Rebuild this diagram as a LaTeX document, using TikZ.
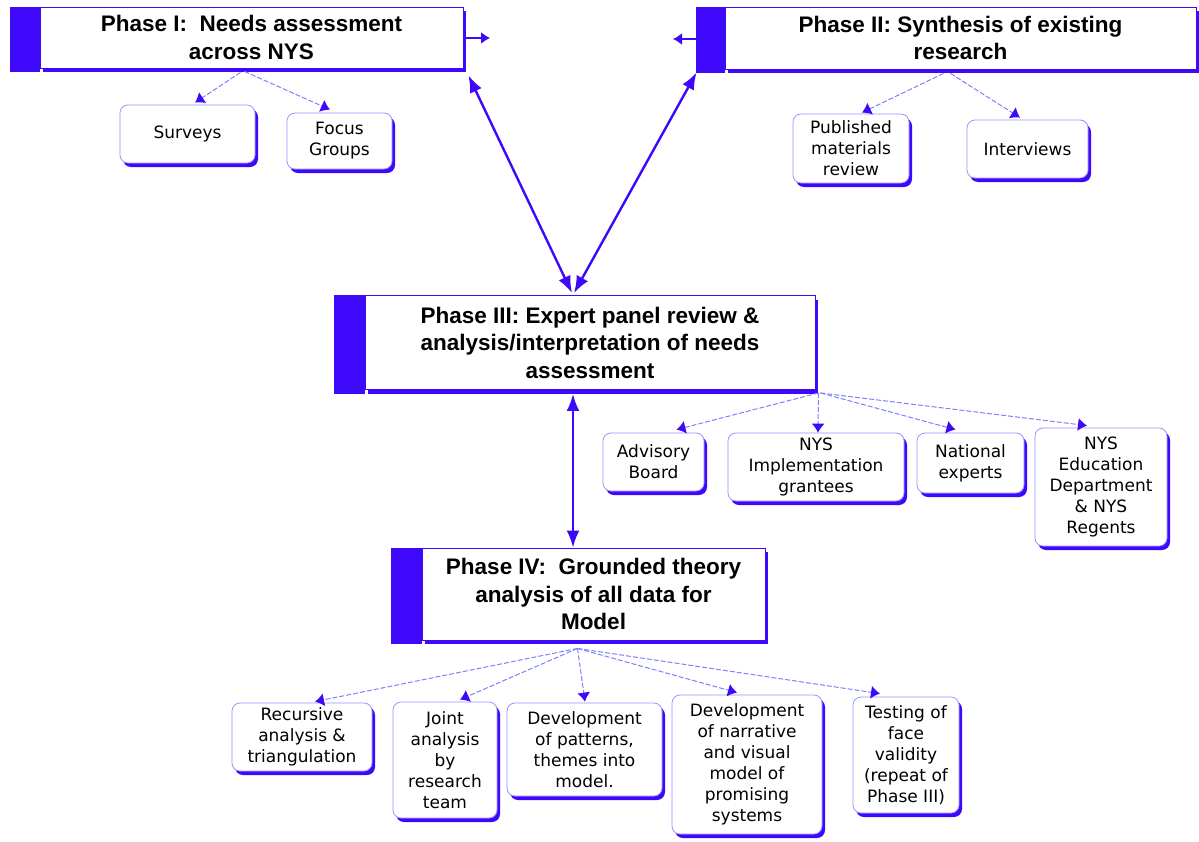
\documentclass[tikz,border=0pt]{standalone}
\usepackage{fontspec}
\usetikzlibrary{arrows.meta,calc,shadows}
\newfontfamily\titlefont{Liberation Sans}
\newfontfamily\boxfont{DejaVu Sans}

\definecolor{bblue}{RGB}{62,8,250}
\definecolor{lblue}{RGB}{128,128,255}
\definecolor{edgeblue}{RGB}{150,150,255}

\tikzset{
  phasebox/.style={draw=bblue, line width=0.9pt, fill=white, rectangle,
    inner sep=0pt, align=center,
    font=\titlefont\bfseries\fontsize{22.5}{27.5}\selectfont,
    drop shadow={shadow xshift=3pt, shadow yshift=-4pt, fill=bblue, opacity=1}},
  leafbox/.style={draw=edgeblue, line width=0.8pt, fill=white,
    rounded corners=8pt, inner sep=0pt, align=center,
    font=\boxfont\fontsize{17}{21}\selectfont,
    drop shadow={shadow xshift=3pt, shadow yshift=-4pt, fill=bblue, opacity=1}},
  phasebar/.style={fill=bblue},
  bigarrow/.style={draw=bblue, line width=2.4pt,
    {Latex[length=17pt,width=13pt]}-{Latex[length=17pt,width=13pt]}},
  subarrow/.style={draw=lblue, line width=1pt, dash pattern=on 5pt off 2pt,
    -{Latex[length=9pt,width=13pt,color=bblue]}},
  stubarrow/.style={draw=bblue, line width=1.6pt,
    -{Latex[length=9pt,width=12pt]}},
}

\begin{document}
\begin{tikzpicture}[x=1pt,y=-1pt]
\fill[white] (0,0) rectangle (1199,841);
\useasboundingbox (0,0) rectangle (1199,841);

% ---- phase boxes ----
\node[phasebox, minimum width=423pt, minimum height=61pt] (p1) at (251.5,37.5)
  {Phase I:\ \ Needs assessment\\across NYS};
\node[phasebox, minimum width=471pt, minimum height=62pt] (p2) at (960.5,38)
  {Phase II: Synthesis of existing\\research};
\node[phasebox, minimum width=450pt, minimum height=94pt] (p3) at (590,342.5)
  {Phase III: Expert panel review \&\\analysis/interpretation of needs\\assessment};
\node[phasebox, minimum width=343pt, minimum height=92pt] (p4) at (593.5,594)
  {Phase IV:\ \ Grounded theory\\analysis of all data for\\Model};

% left colour bars of the phase boxes
\fill[phasebar] ($(p1.north west)+(-30,0)$) rectangle ($(p1.south west)+(0,4)$);
\fill[phasebar] ($(p2.north west)+(-29,0)$) rectangle ($(p2.south west)+(0,4)$);
\fill[phasebar] ($(p3.north west)+(-31,0)$) rectangle ($(p3.south west)+(0,4)$);
\fill[phasebar] ($(p4.north west)+(-31,0)$) rectangle ($(p4.south west)+(0,4)$);

% ---- phase I items ----
\node[leafbox, minimum width=135pt, minimum height=58pt] (sv) at (187.5,134) {Surveys};
\node[leafbox, minimum width=105pt, minimum height=56pt] (fg) at (339.5,141) {Focus\\Groups};

% ---- phase II items ----
\node[leafbox, minimum width=116pt, minimum height=69pt] (pm) at (851,148.5) {Published\\materials\\review};
\node[leafbox, minimum width=121pt, minimum height=58pt] (iv) at (1027.5,149) {Interviews};

% ---- phase III items ----
\node[leafbox, minimum width=101pt, minimum height=58pt] (ab) at (653.5,462) {Advisory\\Board};
\node[leafbox, minimum width=176pt, minimum height=68pt] (ni) at (816,467) {NYS\\Implementation\\grantees};
\node[leafbox, minimum width=107pt, minimum height=60pt] (ne) at (970.5,463) {National\\experts};
\node[leafbox, minimum width=132pt, minimum height=118pt] (ed) at (1101,487) {NYS\\Education\\Department\\\& NYS\\Regents};

% ---- phase IV items ----
\node[leafbox, minimum width=140pt, minimum height=68pt] (rc) at (302,737) {Recursive\\analysis \&\\triangulation};
\node[leafbox, minimum width=104pt, minimum height=116pt] (ja) at (445,760) {Joint\\analysis\\by\\research\\team};
\node[leafbox, minimum width=155pt, minimum height=93pt] (dp) at (584.5,749.5) {Development\\of patterns,\\themes into\\model.};
\node[leafbox, minimum width=150pt, minimum height=139pt] (dn) at (747,764.5) {Development\\of narrative\\and visual\\model of\\promising\\systems};
\node[leafbox, minimum width=106pt, minimum height=116pt] (tf) at (906,755) {Testing of\\face\\validity\\(repeat of\\Phase III)};

% ---- links between phases ----
\draw[bigarrow] ($(p1.south east)+(5,7)$) -- ($(p3.north)+(-18,-2)$);
\draw[bigarrow] ($(p2.south west)+(-28,3)$) -- ($(p3.north)+(-16,-2)$);
\draw[bigarrow] ($(p3.south)+(-17,4)$) -- ($(p4.north)+(-20.5,0)$);

% short stubs between phase I and phase II
\coordinate (s1) at (490,38);
\coordinate (s2) at (673,39);
\draw[stubarrow] ($(p1.east)+(3,0.5)$) -- (s1);
\draw[stubarrow] ($(p2.west)+(-29,1)$) -- (s2);

% ---- links to items ----
\draw[subarrow] ($(p1.south)+(-11,4)$) -- ($(sv.north)+(7.5,-2)$);
\draw[subarrow] ($(p1.south)+(-7,3)$) -- ($(fg.north)+(-9.5,-3)$);

\draw[subarrow] ($(p2.south)+(-17,4)$) -- ($(pm.north)+(11,-1)$);
\draw[subarrow] ($(p2.south)+(-10,4)$) -- ($(iv.north)+(-7.5,-2)$);

\draw[subarrow] ($(p3.south east)+(3,3)$) -- ($(ab.north)+(23,-3)$);
\draw[subarrow] ($(p3.south east)+(3,3)$) -- ($(ni.north)+(2,0)$);
\draw[subarrow] ($(p3.south east)+(5,3)$) -- ($(ne.north)+(-15,-3)$);
\draw[subarrow] ($(p3.south east)+(5,3)$) -- ($(ed.north)+(-14,-2)$);

\draw[subarrow] ($(p4.south)+(-16,8)$) -- ($(rc.north)+(13,-1)$);
\draw[subarrow] ($(p4.south)+(-16,8)$) -- ($(ja.north)+(15,-2)$);
\draw[subarrow] ($(p4.south)+(-16,8)$) -- ($(dp.north)+(0.5,-1)$);
\draw[subarrow] ($(p4.south)+(-16,8)$) -- ($(dn.north)+(-10,-2)$);
\draw[subarrow] ($(p4.south)+(-16,8)$) -- ($(tf.north)+(-26,-3)$);
\end{tikzpicture}
\end{document}
